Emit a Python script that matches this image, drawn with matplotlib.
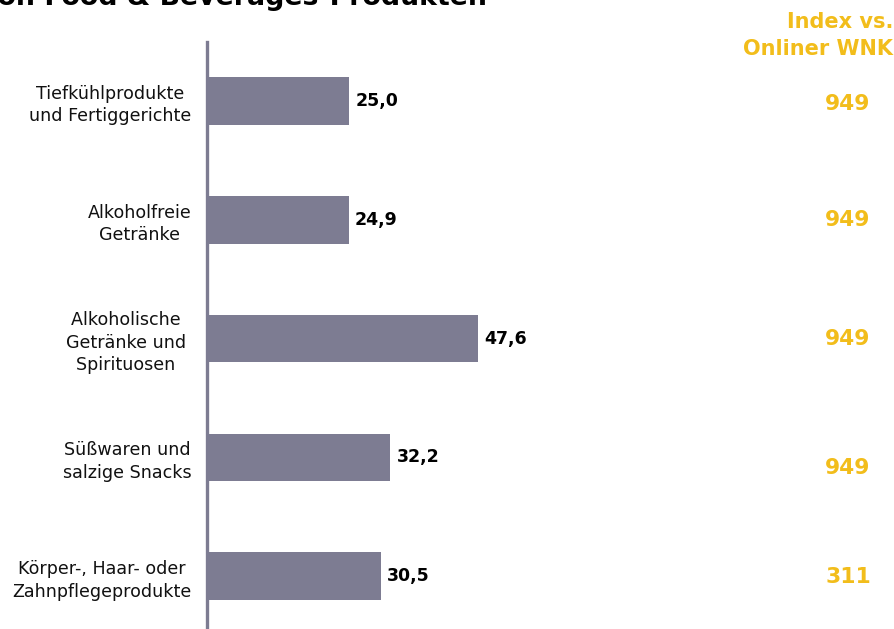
import matplotlib
matplotlib.use("Agg")
import matplotlib.pyplot as plt
import matplotlib.transforms as mtransforms

plt.rcParams['font.family'] = ['DejaVu Sans']

categories = [
    "Tiefkühlprodukte\nund Fertiggerichte",
    "Alkoholfreie\nGetränke",
    "Alkoholische \nGetränke und \nSpirituosen ",
    "Süßwaren und\nsalzige Snacks",
    "Körper-, Haar- oder\nZahnpflegeprodukte",
]
shares = [25.0, 24.9, 47.6, 32.2, 30.5]
index_values = [949, 949, 949, 949, 311]
index_header = "Index vs.\nOnliner WNK"
title = "von Food & Beverages-Produkten"

BAR = "#7d7c92"
GOLD = "#f2bd1b"

W, H, DPI = 895, 629, 100
fig = plt.figure(figsize=(W / DPI, H / DPI), dpi=DPI)

# axes placed by pixel edges
left_px, top_px, bottom_px = 207, 41.6, 635.5
ax = fig.add_axes([left_px / W, 1 - bottom_px / H, 1 - left_px / W, (bottom_px - top_px) / H])

ypos = list(range(len(categories)))
ax.barh(ypos, shares, height=0.40, color=BAR, zorder=2)
ax.set_xlim(0, (W - left_px) / 5.69)
ax.set_ylim(len(categories) - 0.5, -0.5)

for s in ("top", "right", "bottom"):
    ax.spines[s].set_visible(False)
ax.spines["left"].set_color(BAR)
ax.spines["left"].set_linewidth(2.4)
ax.set_xticks([])
ax.set_yticks(ypos)
ax.set_yticklabels(categories, fontsize=12.6, color="#111111", linespacing=1.32)
ax.tick_params(axis="y", length=0, pad=11)
for lbl in ax.get_yticklabels():
    lbl.set_multialignment("center")

# value labels at bar ends
for y, v in zip(ypos, shares):
    ax.annotate(f"{v:.1f}".replace(".", ","), xy=(v, y), xytext=(4.5, 0),
                textcoords="offset points", va="center", ha="left",
                fontsize=12.5, fontweight="bold", color="black")

# index column on the right
blend = mtransforms.blended_transform_factory(fig.transFigure, ax.transData)
index_nudge_pt = [-2, 0, 0, -8, -0.5]
for y, val, dy in zip(ypos, index_values, index_nudge_pt):
    ax.annotate(str(val), xy=(848 / W, y), xycoords=blend, xytext=(0, dy),
                textcoords="offset points", ha="center", va="center",
                fontsize=15.7, fontweight="bold", color=GOLD)

fig.text(893 / W, 1 - 12 / H, index_header, ha="right", va="top",
         multialignment="right", fontsize=15, fontweight="bold",
         color=GOLD, linespacing=1.45)

# heading runs off the top edge of the figure
fig.text(487 / W, 1 - 5 / H, title, ha="right", va="baseline",
         fontsize=19.3, fontweight="bold", color="black")

fig.savefig("out.png", dpi=DPI)
